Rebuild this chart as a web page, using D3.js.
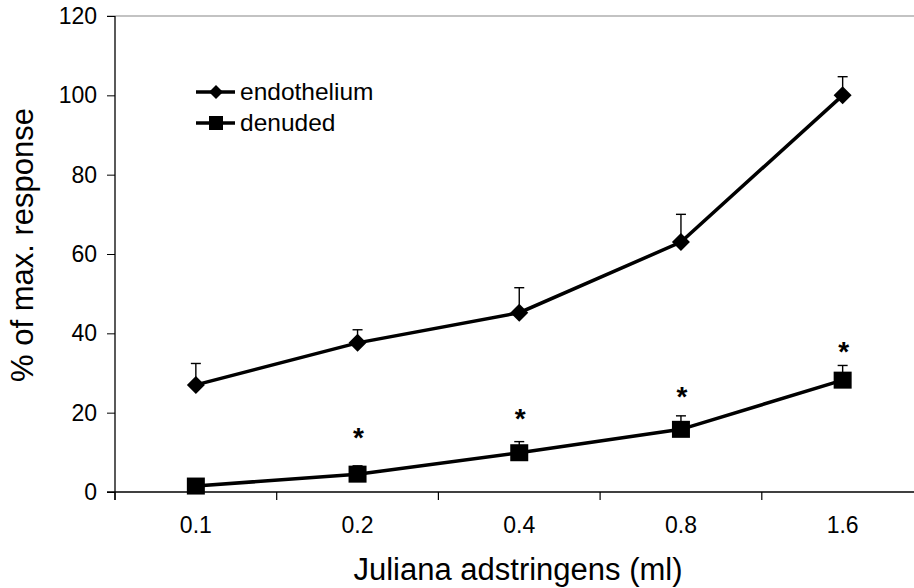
<!DOCTYPE html>
<html><head><meta charset="utf-8">
<script src="https://cdn.jsdelivr.net/npm/d3@7"></script>
<style>body{margin:0;background:#fff}svg{display:block;font-family:"Liberation Sans",Arial,sans-serif}</style>
</head><body><svg id="c" width="914" height="588"></svg>
<script>
const categories = ["0.1","0.2","0.4","0.8","1.6"];
const endothelium = [27.0, 37.6, 45.2, 63.0, 100.0];
const endotheliumErr = [5.4, 3.3, 6.3, 7.0, 4.7];
const denuded = [1.5, 4.5, 9.9, 15.8, 28.2];
const denudedErr = [0, 2.1, 2.8, 3.4, 3.7];
// significance marks (*) drawn above the denuded series, at these heights
const asteriskLevel = [null, 15.0, 19.7, 25.3, 36.6];
const yTicks = [0, 20, 40, 60, 80, 100, 120];

const svg = d3.select("#c");
const FONT = "Liberation Sans, Arial, sans-serif";
const x = d3.scaleBand().domain(categories).range([115, 923.5]);
const y = d3.scaleLinear().domain([0, 120]).range([492, 16]);
const cx = c => x(c) + x.bandwidth() / 2;

// top border
svg.append("line").attr("x1", 107).attr("x2", 914).attr("y1", y(120)).attr("y2", y(120))
  .attr("stroke", "#888").attr("stroke-width", 1.2);

// y axis
const ya = svg.append("g").attr("transform", "translate(115,0)")
  .call(d3.axisLeft(y).tickValues(yTicks).tickSize(8).tickPadding(10));
ya.select(".domain").attr("stroke", "#000").attr("stroke-width", 1.3).attr("d", "M0,16V500");
ya.selectAll(".tick line").attr("stroke", "#000");
ya.selectAll(".tick text").attr("font-size", 23).attr("fill", "#000").attr("font-family", FONT);

// x axis
const xa = svg.append("g").attr("transform", "translate(0,492)")
  .call(d3.axisBottom(x).tickSize(0).tickPadding(25));
xa.select(".domain").attr("stroke", "#000").attr("stroke-width", 1.3).attr("d", "M107,0H914");
xa.selectAll(".tick text").attr("font-size", 23).attr("fill", "#000").attr("font-family", FONT);
// category boundary ticks
const bounds = categories.map(c => x(c)).concat([x(categories[categories.length-1]) + x.bandwidth()]);
svg.append("g").selectAll("line").data(bounds).join("line")
  .attr("x1", d => d).attr("x2", d => d).attr("y1", 492).attr("y2", 500)
  .attr("stroke", "#000").attr("stroke-width", 1.2);

// error bars
function errBars(vals, errs) {
  const g = svg.append("g").attr("stroke", "#000").attr("stroke-width", 1.4);
  categories.forEach((c, i) => {
    if (!errs[i]) return;
    g.append("line").attr("x1", cx(c)).attr("x2", cx(c)).attr("y1", y(vals[i])).attr("y2", y(vals[i] + errs[i]));
    g.append("line").attr("x1", cx(c) - 5).attr("x2", cx(c) + 5).attr("y1", y(vals[i] + errs[i])).attr("y2", y(vals[i] + errs[i]));
  });
}
errBars(endothelium, endotheliumErr);
errBars(denuded, denudedErr);

const line = d3.line().x((d, i) => cx(categories[i])).y(d => y(d));
svg.append("path").datum(endothelium).attr("d", line).attr("fill", "none").attr("stroke", "#000").attr("stroke-width", 3.5);
svg.append("path").datum(denuded).attr("d", line).attr("fill", "none").attr("stroke", "#000").attr("stroke-width", 3.5);

// markers
svg.append("g").selectAll("path").data(endothelium).join("path")
  .attr("d", "M0,-9L9,0L0,9L-9,0Z")
  .attr("transform", (d, i) => `translate(${cx(categories[i])},${y(d)})`).attr("fill", "#000");
svg.append("g").selectAll("rect").data(denuded).join("rect")
  .attr("x", (d, i) => cx(categories[i]) - 9).attr("y", d => y(d) - 8.5)
  .attr("width", 18).attr("height", 17).attr("fill", "#000");

// significance asterisks
const stars = categories.map((c, i) => ({c, v: asteriskLevel[i]})).filter(d => d.v != null);
svg.append("g").selectAll("text").data(stars).join("text")
  .attr("x", d => cx(d.c) + 1)
  .attr("y", d => y(d.v) + 14.5)
  .attr("text-anchor", "middle").attr("font-size", 28).attr("font-weight", "bold").attr("font-family", FONT).text("*");

// legend
const leg = svg.append("g");
[["endothelium", "diamond", 92], ["denuded", "square", 123]].forEach(([name, m, ly]) => {
  leg.append("line").attr("x1", 196).attr("x2", 235).attr("y1", ly).attr("y2", ly).attr("stroke", "#000").attr("stroke-width", 3.5);
  if (m === "diamond") leg.append("path").attr("d", `M216,${ly-7}L223,${ly}L216,${ly+7}L209,${ly}Z`).attr("fill", "#000");
  else leg.append("rect").attr("x", 209).attr("y", ly - 7).attr("width", 14).attr("height", 14).attr("fill", "#000");
  leg.append("text").attr("x", 240).attr("y", ly + 8).attr("font-size", 24.5).attr("font-family", FONT).text(name);
});

// axis titles
svg.append("text").attr("x", 518).attr("y", 580).attr("text-anchor", "middle").attr("font-size", 31).attr("font-family", FONT).text("Juliana adstringens (ml)");
svg.append("text").attr("transform", "translate(33,245) rotate(-90)").attr("text-anchor", "middle").attr("font-size", 31).attr("font-family", FONT).text("% of max. response");
</script></body></html>
